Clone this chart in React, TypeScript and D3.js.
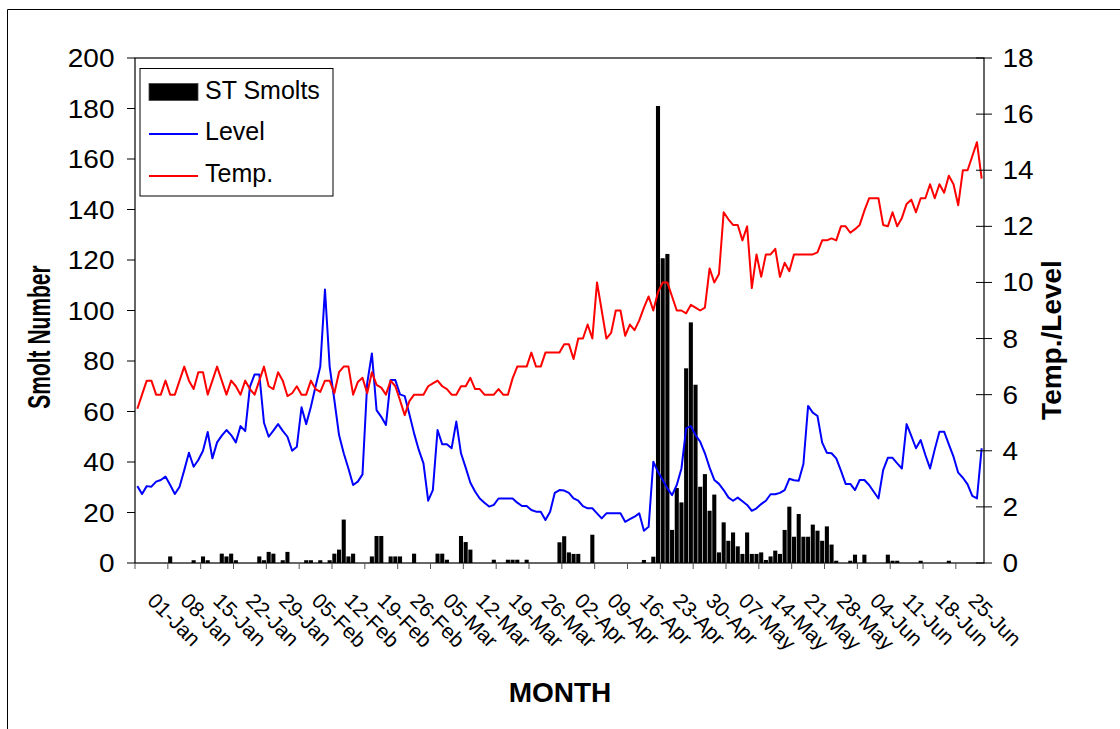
import React from "react";
import * as d3 from "d3";

// ---- data (one value per day, 01-Jan .. 30-Jun) ----
const smolts: number[] = [
  0,0,0,0,0,0,0,2.6,0,0,
  0,0,1.1,0,2.6,1.1,0,0,3.7,2.6,
  3.7,1.1,0,0,0,0,2.6,1.1,4.4,3.7,
  0,1.1,4.4,0,0,0,1.1,1.1,0,1.1,
  0,1.1,3.7,5.3,17.2,2.6,3.7,0,0,0,
  2.6,10.7,10.7,0,2.6,2.6,2.6,0,0,3.7,
  0,0,0,0,3.7,3.7,1.3,0,0,10.7,
  8.3,5.3,0,0,0,0,1.3,0,0,1.3,
  1.3,1.3,0,1.3,0,0,0,0,0,0,
  8.2,10.6,4.2,3.6,3.6,0,0,11.2,0,0,
  0,0,0,0,0,0,0,0,1.2,0,
  2.5,181,120.7,122.4,13.1,29.7,24.0,77.1,95.3,70.6,
  30.2,35.2,20.7,27.1,4.2,16.1,8.8,12.1,6.6,3.6,
  12.1,3.6,3.6,4.2,1.2,2.6,4.9,3.6,13.1,22.3,
  10.4,19.4,10.4,10.4,15.2,12.8,8.8,14.5,7.3,0.9,
  0,0,0.9,3.3,0,3.3,0,0,0,0,
  3.3,0.9,0.9,0,0,0,0,0.9,0,0,
  0,0,0,0.9,0,0,0,0,0,0,0,
];

const level: number[] = [
  2.74,2.46,2.74,2.72,2.9,2.96,3.08,2.78,2.46,2.72,
  3.31,3.93,3.43,3.67,4.0,4.67,3.73,4.3,4.54,4.74,
  4.56,4.3,4.88,4.7,6.28,6.72,6.72,5.0,4.5,4.72,
  4.95,4.71,4.5,4.0,4.14,5.55,4.95,5.57,6.3,7.0,
  9.75,7.0,5.81,4.56,3.91,3.37,2.78,2.9,3.16,6.4,
  7.47,5.45,5.21,4.92,6.52,6.52,6.01,5.95,5.3,4.62,
  4.03,3.55,2.22,2.6,4.74,4.23,4.23,4.09,5.04,3.91,
  3.4,2.86,2.55,2.3,2.15,2.01,2.07,2.3,2.3,2.3,
  2.3,2.15,2.03,2.03,1.89,1.83,1.83,1.53,1.83,2.5,
  2.6,2.58,2.5,2.3,2.22,2.03,1.95,1.95,1.77,1.59,
  1.77,1.77,1.77,1.77,1.47,1.56,1.65,1.77,1.15,1.29,
  3.61,3.25,2.96,2.66,2.42,2.78,3.37,4.8,4.88,4.56,
  4.32,3.91,3.4,2.96,2.82,2.6,2.34,2.22,2.33,2.2,
  2.07,1.86,1.95,2.1,2.22,2.45,2.45,2.5,2.6,3.0,
  2.95,2.93,3.53,5.6,5.36,5.24,4.29,3.93,3.91,3.73,
  3.29,2.82,2.82,2.6,2.96,2.96,2.78,2.54,2.3,3.31,
  3.75,3.75,3.55,3.37,4.95,4.53,4.09,4.38,3.85,3.37,
  4.05,4.68,4.68,4.23,3.79,3.22,3.04,2.8,2.39,2.3,4.09,
];

const temp: number[] = [
  5.5,6.0,6.5,6.5,6.0,6.0,6.5,6.0,6.0,6.5,
  7.0,6.5,6.2,6.8,6.8,6.0,6.5,7.0,6.5,6.0,
  6.5,6.3,6.0,6.5,6.2,6.0,6.5,7.0,6.3,6.2,
  6.8,6.5,5.95,6.05,6.3,6.0,6.0,6.5,6.2,6.1,
  6.5,6.5,6.05,6.8,7.0,7.0,6.0,6.45,6.6,6.05,
  6.8,6.35,6.25,6.0,6.5,6.3,5.8,5.27,5.77,6.0,
  6.0,6.0,6.3,6.4,6.5,6.3,6.2,6.0,6.0,6.3,
  6.3,6.6,6.2,6.2,6.0,6.0,6.0,6.2,6.0,6.0,
  6.58,7.0,7.0,7.0,7.5,7.0,7.0,7.5,7.5,7.5,
  7.5,7.8,7.8,7.27,8.0,8.0,8.5,8.0,10.0,9.0,
  8.0,8.2,9.0,9.0,8.1,8.5,8.3,8.65,9.1,9.5,
  9.0,9.65,10.0,10.0,9.5,9.0,9.0,8.9,9.2,9.1,
  9.0,9.1,10.5,10.0,10.3,12.5,12.25,12.05,12.05,11.5,
  12.0,9.8,11.0,10.2,11.0,11.0,11.2,10.2,10.7,10.4,
  11.0,11.0,11.0,11.0,11.0,11.07,11.5,11.5,11.57,11.5,
  12.0,12.0,11.77,11.9,12.05,12.56,13.0,13.0,13.0,12.05,
  12.0,12.5,12.0,12.3,12.8,12.95,12.5,13.0,13.0,13.5,
  13.0,13.5,13.2,13.8,13.5,12.75,14.0,14.0,14.5,15.0,13.7,
];

const startDate = new Date(2007, 0, 1);
const categories: Date[] = d3.range(smolts.length).map((i) => d3.timeDay.offset(startDate, i));
const labelEvery = 7;
const leftTicks = [0, 20, 40, 60, 80, 100, 120, 140, 160, 180, 200];
const rightTicks = [0, 2, 4, 6, 8, 10, 12, 14, 16, 18];
const legendItems = ["ST Smolts", "Level", "Temp."];

const FONT = "'Liberation Sans', Arial, Helvetica, sans-serif";

export default function App() {
  const L = 135, R = 984, T = 58, B = 563;
  const x = d3.scaleBand<number>().domain(d3.range(categories.length)).range([L, R]).padding(0);
  const bw = x.bandwidth();
  const yL = d3.scaleLinear().domain([0, 200]).range([B, T]);
  const yR = d3.scaleLinear().domain([0, 18]).range([B, T]);
  const fmt = d3.timeFormat("%d-%b");

  const lineGen = d3
    .line<number>()
    .x((_, i) => (x(i) as number) + bw / 2)
    .y((v) => yR(v));

  const tickIdx = d3.range(0, categories.length, labelEvery).filter((i) => i <= 175);

  return (
    <svg
      width={1120}
      height={729}
      style={{ position: "absolute", left: 0, top: 0, background: "#fff" }}
      fontFamily={FONT}
    >
      <rect x={0} y={0} width={1120} height={729} fill="#fff" />
      {/* outer frame */}
      <line x1={7.5} y1={9.5} x2={1120} y2={9.5} stroke="#000" strokeWidth={1} />
      <line x1={7.5} y1={9.5} x2={7.5} y2={729} stroke="#000" strokeWidth={1} />

      {/* bars */}
      {smolts.map((v, i) =>
        v > 0 ? (
          <rect
            key={"b" + i}
            x={(x(i) as number) + 0.3}
            y={yL(v)}
            width={bw - 0.6}
            height={B - yL(v)}
            fill="#000"
          />
        ) : null
      )}

      {/* lines */}
      <path d={lineGen(level) || ""} fill="none" stroke="#0000ff" strokeWidth={2} strokeLinejoin="round" />
      <path d={lineGen(temp) || ""} fill="none" stroke="#ff0000" strokeWidth={2} strokeLinejoin="round" />

      {/* plot border */}
      <rect x={L} y={T} width={R - L} height={B - T} fill="none" stroke="#000" strokeWidth={1.2} />

      {/* left axis */}
      {leftTicks.map((t) => (
        <g key={"l" + t}>
          <line x1={127} x2={L} y1={yL(t)} y2={yL(t)} stroke="#000" strokeWidth={1} />
          <g transform={`translate(114.5,${yL(t)}) scale(1.12,1)`}>
            <text x={0} y={0} dy="0.36em" textAnchor="end" fontSize={25} fill="#000">
              {t}
            </text>
          </g>
        </g>
      ))}

      {/* right axis */}
      {rightTicks.map((t) => (
        <g key={"r" + t}>
          <line x1={976} x2={992} y1={yR(t)} y2={yR(t)} stroke="#000" strokeWidth={1} />
          <g transform={`translate(1002.5,${yR(t)}) scale(1.12,1)`}>
            <text x={0} y={0} dy="0.36em" textAnchor="start" fontSize={25} fill="#000">
              {t}
            </text>
          </g>
        </g>
      ))}

      {/* x ticks and labels */}
      {tickIdx.map((i) => (
        <g key={"x" + i}>
          <line x1={x(i) as number} x2={x(i) as number} y1={B} y2={B + 6} stroke="#555" strokeWidth={1} />
          <text
            transform={`translate(${(x(i) as number) + bw / 2 + 9},602) rotate(45)`}
            fontSize={21}
            fill="#000"
          >
            {fmt(categories[i])}
          </text>
        </g>
      ))}

      {/* axis titles */}
      <g transform="translate(50,337) scale(1.5,1)">
        <text transform="rotate(-90)" textAnchor="middle" fontSize={21} fontWeight="bold" fill="#000">
          Smolt Number
        </text>
      </g>
      <text
        transform="translate(1061,340) rotate(-90)"
        textAnchor="middle"
        fontSize={28}
        fontWeight="bold"
        fill="#000"
      >
        Temp./Level
      </text>
      <text x={560} y={701.5} textAnchor="middle" fontSize={28} fontWeight="bold" fill="#000">
        MONTH
      </text>

      {/* legend */}
      <g>
        <rect x={140} y={68.5} width={193} height={127.5} fill="#fff" stroke="#000" strokeWidth={1} />
        <rect x={149} y={83.5} width={49} height={17} fill="#000" stroke="#444" strokeWidth={0.8} />
        <line x1={149} x2={198} y1={134} y2={134} stroke="#0000ff" strokeWidth={1.8} />
        <line x1={149} x2={198} y1={176} y2={176} stroke="#ff0000" strokeWidth={1.8} />
        {legendItems.map((t, k) => (
          <text key={t} x={205} y={98.5 + k * 41.7} fontSize={25} fill="#000">
            {t}
          </text>
        ))}
      </g>
    </svg>
  );
}
